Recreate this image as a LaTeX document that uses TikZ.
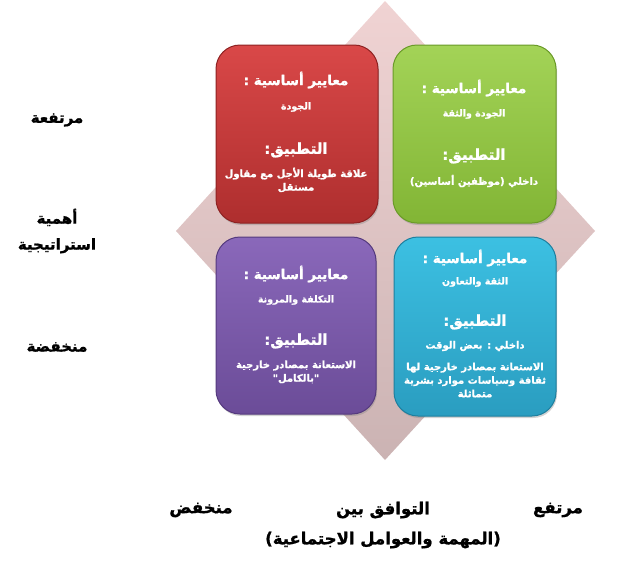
\documentclass[tikz,border=0pt]{standalone}
\usepackage{fontspec}
\TeXXeTstate=1
\newfontfamily\arabicfont[Script=Arabic, BoldFeatures={FakeBold=1.2}]{DejaVu Sans}
\usetikzlibrary{shadows}
\definecolor{diatop}{HTML}{F0D3D3}
\definecolor{diabot}{HTML}{CBB3B3}
\definecolor{redtop}{HTML}{D94848}
\definecolor{redbot}{HTML}{AE2E2E}
\definecolor{rededge}{HTML}{8E2222}
\definecolor{grntop}{HTML}{A3D357}
\definecolor{grnbot}{HTML}{82B535}
\definecolor{grnedge}{HTML}{6A9A28}
\definecolor{purtop}{HTML}{8A68BA}
\definecolor{purbot}{HTML}{6B4C98}
\definecolor{puredge}{HTML}{553A7E}
\definecolor{blutop}{HTML}{3CC0E2}
\definecolor{blubot}{HTML}{2A9DC0}
\definecolor{bluedge}{HTML}{1E7F9E}
\tikzset{
  quad/.style={rounded corners=24pt, line width=1pt, drop shadow={shadow xshift=1pt, shadow yshift=-2pt, opacity=0.35}},
  tall/.style={yscale=1.2},
  head/.style={text=white, font=\arabicfont\bfseries\fontsize{13.5}{16}\selectfont},
  sub/.style={text=white, font=\arabicfont\bfseries\fontsize{9.5}{12}\selectfont},
  apply/.style={text=white, font=\arabicfont\bfseries\fontsize{15}{18}\selectfont},
  body/.style={text=white, align=center, font=\arabicfont\bfseries\fontsize{10}{13.5}\selectfont},
  axis/.style={text=black, align=center, font=\arabicfont\bfseries\fontsize{15}{26}\selectfont},
  axisb/.style={text=black, align=center, font=\arabicfont\bfseries\fontsize{16.5}{30}\selectfont}
}
\begin{document}
\begin{tikzpicture}[x=1pt,y=-1pt]
\useasboundingbox (0,0) rectangle (636,571);
% diamond
\shade[top color=diatop, bottom color=diabot] (385,1) -- (595,231) -- (385,460) -- (176,231) -- cycle;
% boxes
\path[quad, draw=rededge, top color=redtop, bottom color=redbot] (216,45) rectangle (378,223);
\path[quad, draw=grnedge, top color=grntop, bottom color=grnbot] (393,45) rectangle (556,223);
\path[quad, draw=puredge, top color=purtop, bottom color=purbot] (216,237) rectangle (376,414);
\path[quad, draw=bluedge, top color=blutop, bottom color=blubot] (394,237) rectangle (556,416);
% red box texts
\node[head] (r1) at (296,80) {\beginR معايير أساسية :\endR};
\node[sub] (r2) at (296,107) {\beginR الجودة\endR};
\node[apply] (r3) at (296,150) {\beginR التطبيق:\endR};
\node[body] (r4) at (296,180) {\beginR علاقة طويلة الأجل مع مقاول\endR\\\beginR مستقل\endR};
% green box texts
\node[head] (g1) at (474,88) {\beginR معايير أساسية :\endR};
\node[sub] (g2) at (474,114) {\beginR الجودة والثقة\endR};
\node[apply] (g3) at (474,156) {\beginR التطبيق:\endR};
\node[body] (g4) at (474,181) {\beginR داخلي (موظفين أساسين)\endR};
% purple box texts
\node[head] (p1) at (296,274) {\beginR معايير أساسية :\endR};
\node[sub] (p2) at (296,300) {\beginR التكلفة والمرونة\endR};
\node[apply] (p3) at (296,341) {\beginR التطبيق:\endR};
\node[body] (p4) at (296,372) {\beginR الاستعانة بمصادر خارجية\endR\\\beginR "بالكامل"\endR};
% blue box texts
\node[head] (b1) at (475,258) {\beginR معايير أساسية :\endR};
\node[sub] (b2) at (475,282) {\beginR الثقة والتعاون\endR};
\node[apply] (b3) at (475,322) {\beginR التطبيق:\endR};
\node[body] (b4) at (475,346) {\beginR داخلي : بعض الوقت\endR};
\node[body] (b5) at (475,380) {\beginR الاستعانة بمصادر خارجية لها\endR\\\beginR ثقافة وسياسات موارد بشرية\endR\\\beginR متماثلة\endR};
% vertical axis labels
\node[axis] (yhigh) at (57,120) {\beginR مرتفعة\endR};
\node[axis] (ymid) at (57,231) {\beginR أهمية\endR\\\beginR استراتيجية\endR};
\node[axis] (ylow) at (57,347) {\beginR منخفضة\endR};
% horizontal axis labels
\node[axisb] (xhigh) at (558,510) {\beginR مرتفع\endR};
\node[axisb] (xmid) at (383,525) {\beginR التوافق بين\endR\\\beginR (المهمة والعوامل الاجتماعية)\endR};
\node[axisb] (xlow) at (201,510) {\beginR منخفض\endR};
\end{tikzpicture}
\end{document}
